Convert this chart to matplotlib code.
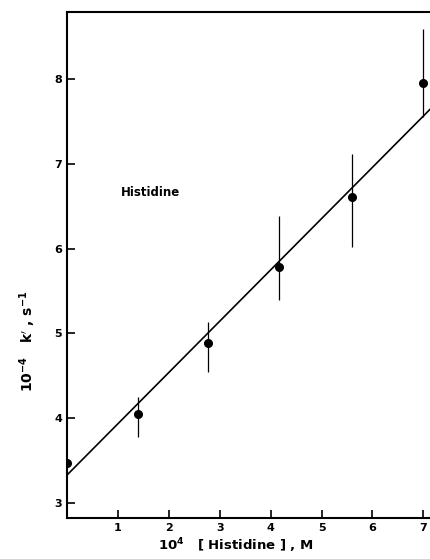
import matplotlib
matplotlib.use("Agg")
import matplotlib.pyplot as plt
import numpy as np

# data
conc = [0.0, 1.4, 2.76, 4.17, 5.59, 6.99]          # 10^4 [Histidine], M
k_obs = [3.47, 4.05, 4.89, 5.78, 6.61, 7.95]        # 10^-4 k', s^-1
err_lo = [0.0, 0.27, 0.34, 0.38, 0.59, 0.39]
err_hi = [0.0, 0.20, 0.25, 0.61, 0.51, 0.64]

fit_intercept = 3.33
fit_slope = 0.605

x_ticks = [1, 2, 3, 4, 5, 6, 7]
y_ticks = [3, 4, 5, 6, 7, 8]

plt.rcParams["font.family"] = ["DejaVu Sans"]

fig = plt.figure(figsize=(4.3, 5.59), dpi=100)
ax = fig.add_axes([0.156, 0.073, 0.845, 0.905])

ax.errorbar(conc, k_obs, yerr=[err_lo, err_hi], fmt="o", color="black",
            markersize=5.5, elinewidth=0.9, capsize=0, zorder=3)

xs = np.array([0.0, 7.3])
ax.plot(xs, fit_intercept + fit_slope * xs, color="black", lw=1.2)

ax.text(1.06, 6.66, "Histidine", fontsize=8.5, fontweight="bold",
        ha="left", va="center")

ax.set_xlim(0, 7.14)
ax.set_ylim(2.82, 8.79)
ax.set_xticks(x_ticks)
ax.set_yticks(y_ticks)
ax.tick_params(direction="in", length=6, width=1.2, labelsize=8)
for lab in ax.get_xticklabels() + ax.get_yticklabels():
    lab.set_fontweight("bold")

ax.spines["right"].set_visible(False)
for s in ["left", "top", "bottom"]:
    ax.spines[s].set_linewidth(1.5)

ax.set_xlabel(r"$\mathbf{10^4}$   [ Histidine ] , M", fontsize=9.5, fontweight="bold")
ax.xaxis.set_label_coords(0.465, -0.036)
ax.set_ylabel(r"$\mathbf{10^{-4}}$   k$'$ , s$^{\mathbf{-1}}$", fontsize=10, fontweight="bold")
ax.yaxis.set_label_coords(-0.08, 0.35)

fig.savefig("out.png", dpi=100)
